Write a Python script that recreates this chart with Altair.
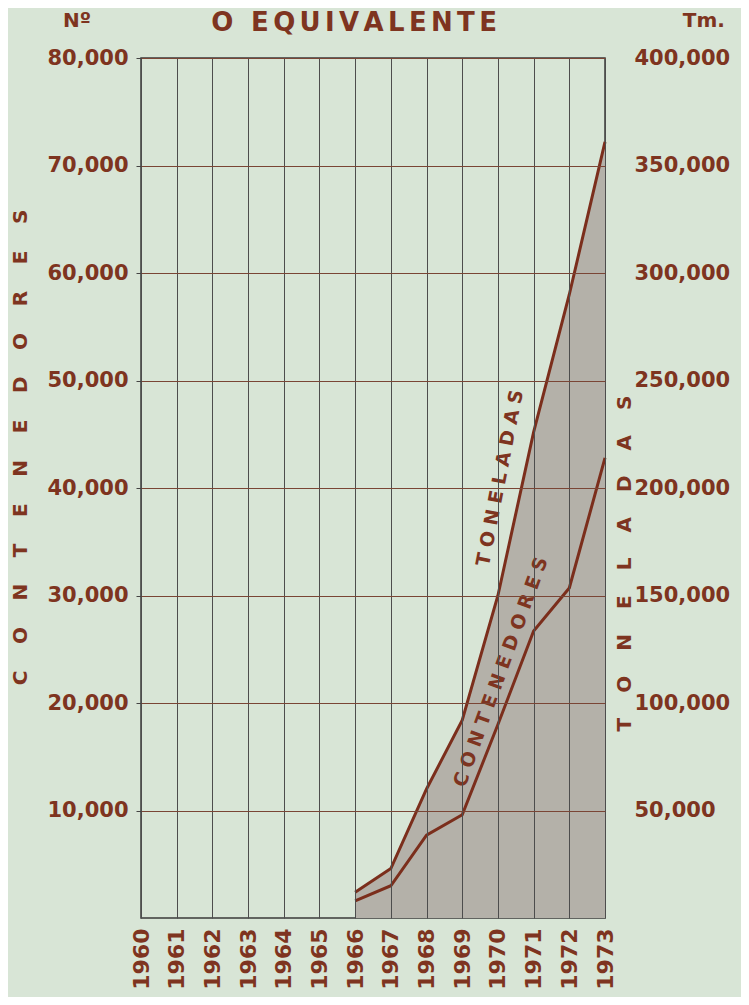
import altair as alt
import pandas as pd

# ---- data ----
years = [1966, 1967, 1968, 1969, 1970, 1971, 1972, 1973]
contenedores = [1600, 3000, 7700, 9600, 18000, 26700, 30700, 42800]
toneladas = [12000, 23000, 60000, 92000, 150000, 226000, 290000, 361000]

year_ticks = list(range(1960, 1974))
left_ticks = [10000, 20000, 30000, 40000, 50000, 60000, 70000, 80000]
right_ticks = [50000, 100000, 150000, 200000, 250000, 300000, 350000, 400000]

note_text = ["TONELADAS", "CONTENEDORES", "Nº", "Tm.", "O EQUIVALENTE"]
note_year = [1970.06, 1970.08, 1958.21, 1975.77, 1965.97]
note_val = [40930, 22880, 83450, 83450, 83250]
note_angle = [281, 290, 0, 0, 0]
note_size = [19, 19, 20, 20, 26]

BROWN = "#7b2e1c"
TEXT = "#7e3420"
FONT = "DejaVu Sans"
BG = "#d8e5d6"


def spaced(word, gap):
    return gap.join(word)


df = pd.DataFrame({"year": years, "cont": contenedores, "ton": toneladas})
notes_df = pd.DataFrame({
    "label": [spaced(note_text[0], "\u2004"), spaced(note_text[1], "\u2004"),
              note_text[2], note_text[3], spaced(note_text[4], "\u2006")],
    "year": note_year,
    "cont": note_val,
    "angle": note_angle,
    "size": note_size,
})

x_enc = alt.X(
    "year:Q",
    scale=alt.Scale(domain=[1960, 1973], nice=False, zero=False),
    axis=alt.Axis(
        values=year_ticks, format="d", labelAngle=270, labelAlign="right",
        labelBaseline="middle", labelPadding=10, labelFontSize=22,
        labelColor=TEXT, labelFont=FONT, labelFontWeight="bold",
        ticks=False, domain=False, grid=True, gridColor="#4d4d4d",
        gridWidth=1, title=None, zindex=1, labelFlush=False, labelOverlap=False,
    ),
)

ton_scale = alt.Scale(domain=[0, 400000], nice=False, zero=True)
ton_axis = alt.Axis(
    orient="right", values=right_ticks, format=",d", labelFontSize=21,
    labelColor=TEXT, labelFont=FONT, labelFontWeight="bold", labelPadding=29,
    labelAlign="left", labelBaseline="middle", labelFlush=False,
    ticks=False, domain=False, grid=False,
    title=spaced("TONELADAS", "\u2003\u2005"), titleFont=FONT, titleFontSize=20,
    titleFontWeight="bold", titleColor=TEXT, titleAngle=270, titleX=19, titleY=505,
    titleAlign="center", titleBaseline="middle",
)

cont_scale = alt.Scale(domain=[0, 80000], nice=False, zero=True)
cont_axis = alt.Axis(
    orient="left", values=left_ticks, format=",d", labelFontSize=21,
    labelColor=TEXT, labelFont=FONT, labelFontWeight="bold", labelPadding=8,
    labelAlign="right", labelBaseline="middle", labelFlush=False,
    ticks=True, tickSize=5, tickColor="#444444", domain=False,
    grid=True, gridColor="#7a4535", gridWidth=1.2, zindex=1,
    title=spaced("CONTENEDORES", "\u2003\u2004"), titleFont=FONT, titleFontSize=20,
    titleFontWeight="bold", titleColor=TEXT, titleAngle=270, titleX=-121, titleY=389,
    titleAlign="center", titleBaseline="middle",
)

area = alt.Chart(df).mark_area(color="#b4b1a9").encode(
    x=x_enc, y=alt.Y("ton:Q", scale=ton_scale, axis=ton_axis)
)
ton_line = alt.Chart(df).mark_line(color=BROWN, strokeWidth=3).encode(
    x=x_enc, y=alt.Y("ton:Q", scale=ton_scale, axis=ton_axis)
)
cont_line = alt.Chart(df).mark_line(color=BROWN, strokeWidth=3).encode(
    x=x_enc, y=alt.Y("cont:Q", scale=cont_scale, axis=cont_axis)
)
notes = alt.Chart(notes_df).mark_text(
    font=FONT, fontWeight="bold", color=TEXT,
    align="center", baseline="middle",
).encode(
    x=x_enc,
    y=alt.Y("cont:Q", scale=cont_scale, axis=cont_axis),
    text="label:N",
    angle=alt.Angle("angle:Q", scale=None),
    size=alt.Size("size:Q", scale=None),
)

chart = (
    alt.layer(alt.layer(area, ton_line), alt.layer(cont_line, notes))
    .resolve_scale(y="independent")
    .properties(
        width=464,
        height=860,
        padding={"left": 133, "top": 50, "right": 136, "bottom": 79},
        autosize=alt.AutoSizeParams(type="none"),
        background=BG,
    )
    .configure_view(stroke="#3a3a3a", strokeWidth=1.5)
)

chart.save("out.html", embed_options={"renderer": "svg", "actions": False})
